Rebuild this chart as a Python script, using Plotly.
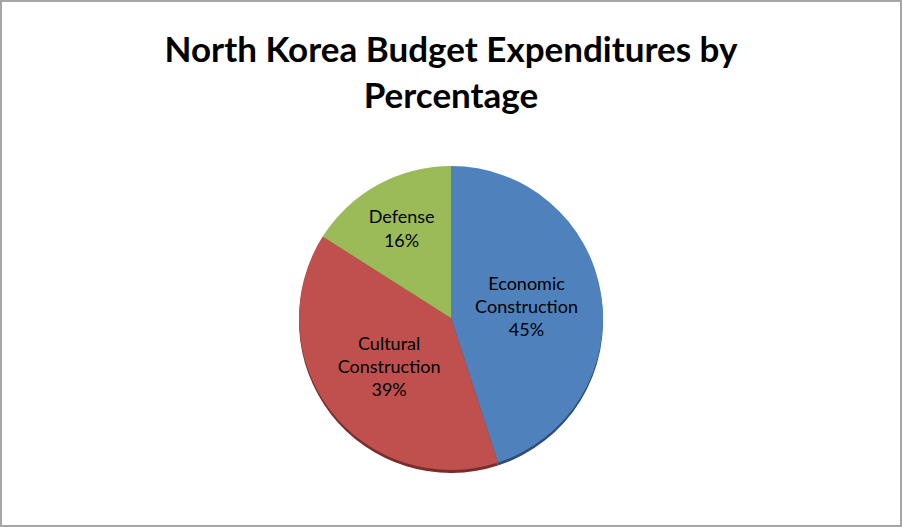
import plotly.graph_objects as go

# budget shares
categories = ['Economic Construction', 'Cultural Construction', 'Defense']
shares = [45, 39, 16]
slice_colours = ['#4F81BD', '#C0504D', '#9BBB59']
shadow_colours = ['#2E4E77', '#7A2E2C', '#5E7435']

W, H = 902, 527
CX, CY, R = 451, 318, 152  # pie centre and radius in pixels (from top)
FONT = 'Lato, Open Sans, sans-serif'

labels_wrapped = [c.replace(' ', '<br>') for c in categories]


def pie_domain(dy=0):
    return dict(x=[(CX - R) / W, (CX + R) / W],
                y=[(H - CY - dy - R) / H, (H - CY - dy + R) / H])


fig = go.Figure()

# darker copy slightly lower, gives the bevel/shadow at the bottom edge
fig.add_trace(go.Pie(
    labels=categories, values=shares,
    textinfo='none', hoverinfo='skip',
    marker=dict(colors=shadow_colours, line=dict(width=0)),
    sort=False, direction='clockwise', rotation=0,
    domain=pie_domain(3),
))

fig.add_trace(go.Pie(
    labels=categories,
    values=shares,
    text=labels_wrapped,
    texttemplate='%{text}<br>%{percent:.0%}',
    textposition='inside',
    insidetextorientation='horizontal',
    textfont=dict(family=FONT, size=18, color='black'),
    marker=dict(colors=slice_colours, line=dict(width=0)),
    sort=False,
    direction='clockwise',
    rotation=0,
    hoverinfo='label+percent',
    domain=pie_domain(),
))

fig.update_layout(
    width=W, height=H,
    margin=dict(l=0, r=0, t=0, b=0),
    paper_bgcolor='white',
    showlegend=False,
    title=dict(text='<b>North Korea Budget Expenditures by<br>Percentage</b>',
               x=0.5, xanchor='center', y=1 - 62 / H, yanchor='middle',
               font=dict(family=FONT, size=35, color='black')),
    shapes=[dict(type='rect', xref='paper', yref='paper',
                 x0=1 / W, y0=1 / H, x1=1 - 1 / W, y1=1 - 1 / H,
                 line=dict(color='#A6A6A6', width=2))],
)

fig.write_html('out.html',
               config={'displayModeBar': False},
               post_script="document.body.style.margin='0';"
                           "document.body.style.overflow='hidden';")
